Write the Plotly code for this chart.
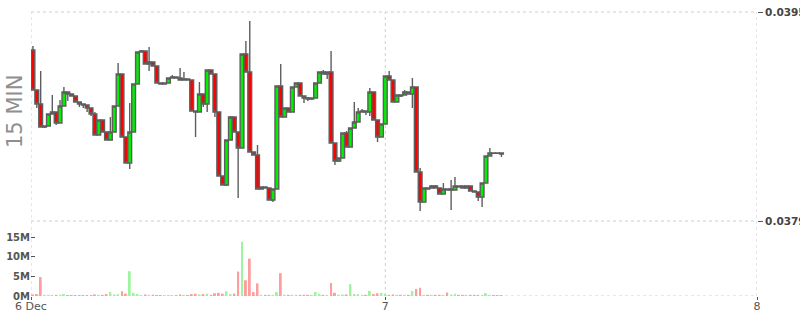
import plotly.graph_objects as go
import pandas as pd

# ---- data (15-minute candles, 6 Dec 01:15 -> 7 Dec 05:30) ----
open_ = [0.039209, 0.038903, 0.038796, 0.038620, 0.038627, 0.038719, 0.038734, 0.038650, 0.038780, 0.038888,
         0.038872, 0.038857, 0.038811, 0.038796, 0.038788, 0.038765, 0.038719, 0.038558, 0.038673, 0.038581,
         0.038520, 0.038581, 0.038780, 0.039025, 0.038543, 0.038344, 0.038581, 0.038949, 0.039194, 0.039201,
         0.039102, 0.039117, 0.039087, 0.038957, 0.038949, 0.038957, 0.038995, 0.039002, 0.038995, 0.038979,
         0.038987, 0.038979, 0.038742, 0.038734, 0.038872, 0.038796, 0.039056, 0.039025, 0.038734, 0.038245,
         0.038176, 0.038520, 0.038696, 0.038581, 0.038459, 0.039179, 0.039041, 0.038428, 0.038405, 0.038145,
         0.038160, 0.038153, 0.038061, 0.038145, 0.038934, 0.038696, 0.038765, 0.038734, 0.038926, 0.038957,
         0.038857, 0.038842, 0.038834, 0.038842, 0.038957, 0.039041, 0.039025, 0.039041, 0.038497, 0.038359,
         0.038382, 0.038574, 0.038467, 0.038612, 0.038658, 0.038734, 0.038742, 0.038734, 0.038888, 0.038673,
         0.038543, 0.038643, 0.039010, 0.038979, 0.038811, 0.038865, 0.038865, 0.038888, 0.038872, 0.038926,
         0.038275, 0.038046, 0.038153, 0.038153, 0.038168, 0.038153, 0.038107, 0.038145, 0.038137, 0.038137,
         0.038168, 0.038168, 0.038153, 0.038168, 0.038130, 0.038122, 0.038084, 0.038191, 0.038398, 0.038421,
         0.038421, 0.038421]
high = [0.039240, 0.038903, 0.039048, 0.038627, 0.038719, 0.038865, 0.038734, 0.038826, 0.038926, 0.038888,
        0.038872, 0.038857, 0.038811, 0.038796, 0.038788, 0.038765, 0.038734, 0.038673, 0.038673, 0.038581,
        0.038696, 0.038780, 0.039110, 0.039025, 0.038543, 0.038803, 0.038949, 0.039194, 0.039209, 0.039201,
        0.039232, 0.039117, 0.039087, 0.038957, 0.038957, 0.038995, 0.039018, 0.039002, 0.039071, 0.039041,
        0.038987, 0.038979, 0.038742, 0.038964, 0.038872, 0.039056, 0.039056, 0.039025, 0.038734, 0.038245,
        0.038520, 0.038704, 0.038696, 0.038581, 0.039179, 0.039278, 0.039431, 0.038428, 0.038482, 0.038160,
        0.038160, 0.038153, 0.038145, 0.038934, 0.039102, 0.038765, 0.038765, 0.038926, 0.038957, 0.038957,
        0.038857, 0.038849, 0.038842, 0.038957, 0.039041, 0.039056, 0.039041, 0.039201, 0.038497, 0.038382,
        0.038574, 0.038589, 0.038612, 0.038811, 0.038765, 0.038757, 0.038742, 0.038918, 0.038888, 0.038673,
        0.038643, 0.039010, 0.039048, 0.038979, 0.038865, 0.038865, 0.038903, 0.038888, 0.038995, 0.038926,
        0.038306, 0.038153, 0.038153, 0.038176, 0.038176, 0.038153, 0.038191, 0.038145, 0.038214, 0.038237,
        0.038168, 0.038168, 0.038168, 0.038168, 0.038130, 0.038122, 0.038191, 0.038398, 0.038459, 0.038421,
        0.038421, 0.038421]
low = [0.038903, 0.038765, 0.038620, 0.038612, 0.038627, 0.038719, 0.038635, 0.038650, 0.038780, 0.038819,
       0.038857, 0.038811, 0.038773, 0.038765, 0.038734, 0.038704, 0.038558, 0.038558, 0.038581, 0.038520,
       0.038520, 0.038581, 0.038780, 0.038543, 0.038344, 0.038298, 0.038581, 0.038949, 0.039194, 0.039102,
       0.039048, 0.039087, 0.038957, 0.038949, 0.038949, 0.038957, 0.038995, 0.038995, 0.038979, 0.038979,
       0.038979, 0.038742, 0.038543, 0.038734, 0.038773, 0.038734, 0.039025, 0.038696, 0.038245, 0.038176,
       0.038168, 0.038520, 0.038581, 0.038076, 0.038459, 0.039041, 0.038428, 0.038405, 0.038145, 0.038145,
       0.038153, 0.038061, 0.038046, 0.038145, 0.038696, 0.038696, 0.038734, 0.038734, 0.038926, 0.038857,
       0.038803, 0.038819, 0.038826, 0.038842, 0.038957, 0.039025, 0.038987, 0.038497, 0.038329, 0.038352,
       0.038382, 0.038467, 0.038467, 0.038612, 0.038658, 0.038734, 0.038712, 0.038704, 0.038673, 0.038505,
       0.038543, 0.038643, 0.038979, 0.038811, 0.038811, 0.038849, 0.038865, 0.038872, 0.038765, 0.038275,
       0.037977, 0.038046, 0.038145, 0.038153, 0.038153, 0.038107, 0.038107, 0.038137, 0.037984, 0.038137,
       0.038160, 0.038153, 0.038153, 0.038130, 0.038122, 0.038053, 0.038007, 0.038191, 0.038398, 0.038418,
       0.038418, 0.038390]
close = [0.038903, 0.038796, 0.038620, 0.038627, 0.038719, 0.038734, 0.038650, 0.038780, 0.038888, 0.038872,
         0.038857, 0.038811, 0.038796, 0.038788, 0.038765, 0.038719, 0.038558, 0.038673, 0.038581, 0.038520,
         0.038581, 0.038780, 0.039025, 0.038543, 0.038344, 0.038581, 0.038949, 0.039194, 0.039201, 0.039102,
         0.039117, 0.039087, 0.038957, 0.038949, 0.038957, 0.038995, 0.039002, 0.038995, 0.038979, 0.038987,
         0.038979, 0.038742, 0.038734, 0.038872, 0.038796, 0.039056, 0.039025, 0.038734, 0.038245, 0.038176,
         0.038520, 0.038696, 0.038581, 0.038459, 0.039179, 0.039041, 0.038428, 0.038405, 0.038145, 0.038160,
         0.038153, 0.038061, 0.038145, 0.038934, 0.038696, 0.038765, 0.038734, 0.038926, 0.038957, 0.038857,
         0.038842, 0.038834, 0.038842, 0.038957, 0.039041, 0.039025, 0.039041, 0.038497, 0.038359, 0.038382,
         0.038574, 0.038467, 0.038612, 0.038658, 0.038734, 0.038742, 0.038734, 0.038888, 0.038673, 0.038543,
         0.038643, 0.039010, 0.038979, 0.038811, 0.038865, 0.038857, 0.038888, 0.038872, 0.038926, 0.038275,
         0.038046, 0.038153, 0.038145, 0.038168, 0.038153, 0.038107, 0.038145, 0.038137, 0.038145, 0.038168,
         0.038160, 0.038153, 0.038168, 0.038130, 0.038122, 0.038084, 0.038191, 0.038398, 0.038421, 0.038418,
         0.038418, 0.038413]
volume_m = [0.4, 0.5, 4.8, 0.3, 0.3, 0.3, 0.3, 0.3, 0.5, 0.2,
            0.2, 0.2, 0.2, 0.2, 0.2, 0.2, 0.4, 0.3, 0.3, 0.5,
            1.0, 0.4, 0.5, 1.2, 0.6, 6.3, 0.8, 0.5, 0.2, 0.4,
            0.3, 0.3, 0.2, 0.2, 0.2, 0.3, 0.2, 0.2, 0.4, 0.3,
            0.2, 0.5, 0.6, 0.4, 0.5, 0.6, 0.3, 0.7, 0.8, 0.6,
            1.2, 0.5, 0.6, 6.2, 13.8, 4.0, 9.5, 1.0, 3.2, 0.3,
            0.3, 0.3, 0.3, 1.0, 5.8, 0.3, 0.3, 0.3, 0.3, 0.3,
            0.3, 0.3, 0.3, 1.0, 0.5, 0.3, 0.3, 3.3, 0.8, 0.3,
            0.4, 0.4, 3.0, 0.5, 0.5, 0.3, 0.3, 1.3, 0.5, 0.7,
            0.8, 0.5, 0.3, 0.4, 0.3, 0.3, 0.3, 0.3, 1.3, 1.8,
            2.1, 0.3, 0.3, 0.3, 0.3, 0.3, 0.3, 0.9, 0.4, 0.6,
            0.3, 0.3, 0.3, 0.3, 0.3, 0.3, 0.3, 0.7, 0.3, 0.1,
            0.1, 0.1]

price_ticks = [0.0379, 0.0395]
price_tick_text = ["0.0379", "0.0395"]
volume_ticks = [0, 5e6, 10e6, 15e6]
volume_tick_text = ["0M", "5M", "10M", "15M"]
date_tick_text = ["6 Dec", "7", "8"]

times = pd.date_range("2023-12-06 01:15", periods=len(open_), freq="15min")
x_start = pd.Timestamp("2023-12-06 01:07:30")
x_end = pd.Timestamp("2023-12-08 00:00")
date_ticks = [x_start, pd.Timestamp("2023-12-07"), pd.Timestamp("2023-12-08")]

vol = [v * 1e6 for v in volume_m]
vol_colors = ["#9cf59c" if c >= o else "#ff9c9c" for o, c in zip(open_, close)]

fig = go.Figure()
fig.add_trace(go.Candlestick(
    x=times, open=open_, high=high, low=low, close=close,
    increasing=dict(fillcolor="#00f000", line=dict(color="#5e5e5e", width=1.4)),
    decreasing=dict(fillcolor="#ff0000", line=dict(color="#5e5e5e", width=1.4)),
    whiskerwidth=0, xaxis="x", yaxis="y", showlegend=False,
))
fig.add_trace(go.Bar(
    x=times, y=vol, marker=dict(color=vol_colors, line=dict(width=0)),
    width=15 * 60 * 1000 * 0.5, xaxis="x", yaxis="y2", showlegend=False,
))

grid_line = dict(color="#cfcfcf", width=1, dash="dot")
shapes = [
    dict(type="line", xref="paper", x0=0, x1=1, yref="y domain", y0=1, y1=1, line=grid_line, layer="below"),
    dict(type="line", xref="paper", x0=0, x1=1, yref="y domain", y0=0, y1=0, line=grid_line, layer="below"),
    dict(type="line", xref="paper", x0=0, x1=1, yref="y2", y0=0, y1=0, line=grid_line, layer="below"),
]
for t in date_ticks:
    shapes.append(dict(type="line", xref="x", x0=t, x1=t, yref="paper", y0=0, y1=1,
                       line=grid_line, layer="below"))

fig.update_layout(
    width=800, height=315,
    margin=dict(l=31, r=43, t=12, b=19, autoexpand=False),
    paper_bgcolor="white", plot_bgcolor="white",
    boxgap=0.02, boxgroupgap=0,
    showlegend=False,
    xaxis=dict(
        type="date", range=[x_start, x_end], anchor="y2", automargin=False,
        tickmode="array", tickvals=date_ticks, ticktext=date_tick_text,
        tickfont=dict(family="DejaVu Sans", size=11, color="#555555"),
        ticks="outside", ticklen=3, tickcolor="#555555", ticklabelstandoff=-3,
        ticklabeloverflow="allow",
        rangeslider=dict(visible=False), zeroline=False, showline=False, showgrid=False,
    ),
    yaxis=dict(
        domain=[0.264, 1], range=[0.0379, 0.0395], side="right", anchor="x", automargin=False,
        tickmode="array", tickvals=price_ticks, ticktext=price_tick_text,
        tickfont=dict(family="DejaVu Sans", size=10.5, color="#444444", weight="bold"),
        ticks="outside", ticklen=5, tickcolor="#555555", ticklabeloverflow="allow",
        zeroline=False, showline=False, showgrid=False,
    ),
    yaxis2=dict(
        domain=[0, 0.2465], range=[0, 17.8e6], side="left", anchor="x", automargin=False,
        tickmode="array", tickvals=volume_ticks, ticktext=volume_tick_text,
        tickfont=dict(family="DejaVu Sans", size=10, color="#555555", weight="bold"),
        ticks="inside", ticklen=4, tickcolor="#555555", ticklabeloverflow="allow",
        showgrid=False, zeroline=False, showline=False,
    ),
    shapes=shapes,
    annotations=[dict(text="15 MIN", xref="paper", yref="paper", x=-0.022, y=0.648,
                      xanchor="center", yanchor="middle", textangle=-90, showarrow=False,
                      font=dict(family="DejaVu Sans", size=21, color="#8f8f8f"))],
)

fig.write_html("out.html")
